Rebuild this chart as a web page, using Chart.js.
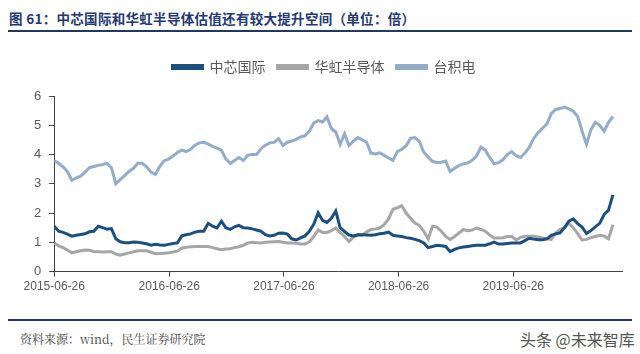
<!DOCTYPE html>
<html>
<head>
<meta charset="utf-8">
<script src="https://cdn.jsdelivr.net/npm/chart.js@4.4.1/dist/chart.umd.min.js"></script>
<style>
  html, body { margin: 0; padding: 0; background: #fff; }
  body { width: 640px; height: 354px; position: relative; overflow: hidden; font-family: "Noto Sans CJK SC", sans-serif; }
  #title { position: absolute; left: 9px; top: 8px; font-size: 13.5px; font-weight: bold; color: #1f3a6e; letter-spacing: 0.3px; }
  .rule { position: absolute; left: 8px; width: 624px; height: 2px; background: #1f3a5f; }
  #source { position: absolute; left: 20px; top: 330px; font-size: 12px; color: #444; font-family: "Noto Serif CJK SC", "Noto Sans CJK SC", serif; }
  #mark { position: absolute; left: 520px; top: 327px; font-size: 16px; color: #555; }
  #wrap { position: absolute; left: 0; top: 38px; width: 640px; height: 259px; }
</style>
</head>
<body>
<div id="title">图 61：中芯国际和华虹半导体估值还有较大提升空间（单位：倍）</div>
<div class="rule" style="top:30px"></div>
<div id="wrap"><canvas id="chart"></canvas></div>
<div class="rule" style="top:319px"></div>
<div id="source">资料来源：wind，民生证券研究院</div>
<div id="mark">头条 @未来智库</div>
<script>
// Series names
const seriesNames = ['中芯国际', '华虹半导体', '台积电'];

// x tick labels (one per year)
const tickLabels = ['2015-06-26', '2016-06-26', '2017-06-26', '2018-06-26', '2019-06-26'];

// one reading every 14 days starting 2015-06-26
const stepDays = 14;

// 中芯国际 PB
const smic = [
  1.55, 1.38, 1.34, 1.28, 1.21, 1.24, 1.27, 1.29, 1.36, 1.38,
  1.55, 1.50, 1.45, 1.47, 1.12, 1.02, 0.99, 0.99, 1.01, 1.00,
  0.98, 0.95, 0.90, 0.93, 0.91, 0.90, 0.93, 0.96, 0.98, 1.22,
  1.26, 1.29, 1.35, 1.38, 1.38, 1.65, 1.55, 1.49, 1.72, 1.50,
  1.44, 1.53, 1.58, 1.50, 1.49, 1.46, 1.42, 1.38, 1.26, 1.22,
  1.24, 1.31, 1.32, 1.28, 1.12, 1.08, 1.15, 1.22, 1.38, 1.62,
  2.01, 1.75, 1.68, 1.82, 2.07, 1.50, 1.37, 1.25, 1.22, 1.26,
  1.26, 1.25, 1.24, 1.26, 1.29, 1.31, 1.35, 1.24, 1.22, 1.20,
  1.16, 1.14, 1.10, 1.06, 0.98, 0.82, 0.86, 0.90, 0.88, 0.86,
  0.68, 0.76, 0.81, 0.84, 0.86, 0.88, 0.90, 0.90, 0.90, 0.95,
  1.01, 0.94, 0.94, 0.96, 0.98, 0.98, 0.98, 1.06, 1.14, 1.11,
  1.09, 1.09, 1.12, 1.24, 1.29, 1.32, 1.50, 1.72, 1.80, 1.64,
  1.52, 1.30, 1.40, 1.53, 1.65, 1.95, 2.10, 2.62
];

// 华虹半导体 PB
const huahong = [
  0.98, 0.88, 0.82, 0.74, 0.64, 0.68, 0.71, 0.74, 0.73, 0.69,
  0.68, 0.67, 0.68, 0.68, 0.60, 0.56, 0.60, 0.64, 0.68, 0.71,
  0.71, 0.71, 0.66, 0.61, 0.62, 0.63, 0.64, 0.67, 0.70, 0.80,
  0.83, 0.85, 0.86, 0.86, 0.86, 0.86, 0.82, 0.78, 0.75, 0.77,
  0.78, 0.82, 0.85, 0.90, 0.98, 1.00, 0.99, 0.98, 1.00, 1.01,
  1.02, 1.03, 1.00, 0.98, 0.98, 0.97, 0.94, 0.94, 1.02, 1.20,
  1.42, 1.34, 1.34, 1.40, 1.49, 1.33, 1.20, 1.03, 1.18, 1.25,
  1.24, 1.35, 1.44, 1.46, 1.49, 1.60, 1.80, 2.13, 2.18, 2.25,
  2.00, 1.82, 1.66, 1.58, 1.38, 1.12, 1.55, 1.52, 1.38, 1.20,
  1.10, 1.20, 1.32, 1.44, 1.40, 1.42, 1.49, 1.44, 1.38, 1.25,
  1.15, 1.15, 1.16, 1.20, 1.20, 1.08, 1.17, 1.21, 1.21, 1.21,
  1.18, 1.15, 1.12, 1.10, 1.32, 1.44, 1.50, 1.65, 1.50, 1.30,
  1.08, 1.10, 1.16, 1.20, 1.24, 1.22, 1.12, 1.60
];

// 台积电 PB
const tsmc = [
  3.79, 3.70, 3.58, 3.42, 3.12, 3.20, 3.26, 3.40, 3.55, 3.59,
  3.63, 3.66, 3.70, 3.55, 3.00, 3.14, 3.28, 3.42, 3.53, 3.70,
  3.70, 3.58, 3.40, 3.32, 3.60, 3.79, 3.84, 3.95, 4.07, 4.15,
  4.10, 4.18, 4.32, 4.40, 4.42, 4.36, 4.28, 4.22, 4.15, 3.85,
  3.70, 3.80, 3.90, 3.80, 3.98, 4.00, 4.00, 4.20, 4.32, 4.40,
  4.42, 4.54, 4.31, 4.42, 4.46, 4.52, 4.60, 4.64, 4.80, 5.08,
  5.16, 5.11, 5.29, 4.89, 4.77, 4.35, 4.71, 4.31, 4.46, 4.58,
  4.50, 4.42, 4.05, 4.02, 4.06, 3.97, 3.88, 3.80, 4.10, 4.18,
  4.30, 4.55, 4.58, 4.45, 4.08, 3.92, 3.76, 3.73, 3.74, 3.78,
  3.42, 3.53, 3.62, 3.68, 3.71, 3.80, 3.95, 4.25, 4.15, 3.90,
  3.68, 3.72, 3.82, 4.00, 4.10, 3.96, 3.90, 4.05, 4.25, 4.55,
  4.75, 4.90, 5.05, 5.40, 5.54, 5.57, 5.62, 5.56, 5.48, 5.30,
  4.80, 4.35, 4.85, 5.10, 5.00, 4.80, 5.10, 5.30
];

const seriesColors = ['#1b4f7f', '#a6a6a6', '#93acc9'];

// days since the first date
function dayOffset(label) {
  return Math.round((new Date(label) - new Date(tickLabels[0])) / 86400000);
}
const tickDays = tickLabels.map(dayOffset);

function toPoints(values) {
  return values.map((v, i) => ({ x: i * stepDays, y: v }));
}

// extra room between legend and plot
const legendGap = {
  id: 'legendGap',
  beforeInit(chart) {
    const fit = chart.legend.fit;
    chart.legend.fit = function () {
      fit.bind(chart.legend)();
      this.height += 12;
    };
  }
};

const ctx = document.getElementById('chart').getContext('2d');
new Chart(ctx, {
  type: 'line',
  data: {
    datasets: [smic, huahong, tsmc].map((values, k) => ({
      label: seriesNames[k],
      data: toPoints(values),
      borderColor: seriesColors[k],
      backgroundColor: seriesColors[k],
      borderWidth: 3,
      pointRadius: 0,
      tension: 0
    }))
  },
  plugins: [legendGap],
  options: {
    responsive: true,
    maintainAspectRatio: false,
    animation: false,
    layout: { padding: { left: 26, right: 18, top: 10, bottom: 0 } },
    plugins: {
      tooltip: { enabled: false },
      legend: {
        position: 'top',
        labels: {
          boxWidth: 30,
          boxHeight: 3,
          padding: 12,
          color: '#595959',
          font: { family: '"Noto Sans CJK SC", sans-serif', size: 14 }
        }
      }
    },
    scales: {
      x: {
        type: 'linear',
        min: 0,
        max: 1807,
        afterBuildTicks: axis => {
          axis.ticks = tickDays.map(d => ({ value: d }));
        },
        ticks: {
          autoSkip: false,
          maxRotation: 0,
          color: '#595959',
          font: { family: '"Liberation Sans", Arial, sans-serif', size: 12 },
          padding: 3,
          callback: value => tickLabels[tickDays.indexOf(value)]
        },
        grid: { drawOnChartArea: false, drawTicks: true, tickLength: 5, color: '#404040' },
        border: { color: '#404040', width: 1 }
      },
      y: {
        min: 0,
        max: 6,
        ticks: {
          stepSize: 1,
          color: '#595959',
          font: { family: '"Liberation Sans", Arial, sans-serif', size: 13 },
          padding: 8
        },
        grid: { drawOnChartArea: false, drawTicks: true, tickLength: 5, color: '#404040' },
        border: { color: '#404040', width: 1 }
      }
    }
  }
});
</script>
</body>
</html>
